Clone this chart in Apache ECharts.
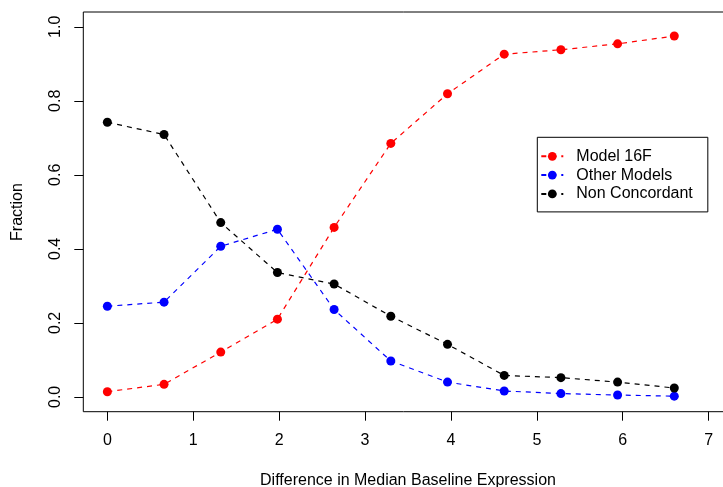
<!DOCTYPE html>
<html>
<head>
<meta charset="utf-8">
<script src="https://cdn.jsdelivr.net/npm/echarts@6/dist/echarts.min.js"></script>
<style>
html,body{margin:0;padding:0;background:#fff;}
#chart{width:723px;height:487px;}
</style>
</head>
<body>
<div id="chart"></div>
<script>
var xValues = [0, 0.66, 1.32, 1.98, 2.64, 3.30, 3.96, 4.62, 5.28, 5.94, 6.60];
var model16F = [0.014, 0.034, 0.121, 0.210, 0.458, 0.685, 0.819, 0.926, 0.938, 0.954, 0.975];
var otherModels = [0.245, 0.256, 0.407, 0.453, 0.236, 0.097, 0.040, 0.016, 0.009, 0.005, 0.002];
var nonConcordant = [0.742, 0.709, 0.471, 0.336, 0.305, 0.218, 0.142, 0.058, 0.052, 0.040, 0.024];
var xTicks = [0, 1, 2, 3, 4, 5, 6, 7];
var yTicks = [0, 0.2, 0.4, 0.6, 0.8, 1.0];
var seriesNames = ['Model 16F', 'Other Models', 'Non Concordant'];
var seriesColors = ['#ff0000', '#0000ff', '#000000'];
var xTitle = 'Difference in Median Baseline Expression';
var yTitle = 'Fraction';

var FONT = '"Liberation Sans", Arial, Helvetica, sans-serif';

function pairs(ys) {
  return xValues.map(function (x, i) { return [x, ys[i]]; });
}
var seriesData = [model16F, otherModels, nonConcordant];

var chart = echarts.init(document.getElementById('chart'), null, {renderer: 'canvas'});
chart.setOption({
  animation: false,
  backgroundColor: '#ffffff',
  textStyle: {fontFamily: FONT},
  grid: {
    left: 83.3, top: 12, width: 649.4, height: 399.7,
    show: true, borderColor: '#000', borderWidth: 1,
    containLabel: false, outerBoundsMode: 'none'
  },
  xAxis: {
    type: 'value', min: -0.28, max: 7.28,
    splitLine: {show: false},
    axisLine: {show: false, onZero: false},
    axisTick: {show: true, inside: false, customValues: xTicks, length: 9, lineStyle: {color: '#000', width: 1}},
    axisLabel: {customValues: xTicks, margin: 21, color: '#000', fontSize: 16, fontFamily: FONT,
      formatter: function (v) { return String(v); }}
  },
  yAxis: {
    type: 'value', min: -0.04, max: 1.04,
    splitLine: {show: false},
    axisLine: {show: false, onZero: false},
    axisTick: {show: true, inside: false, customValues: yTicks, length: 9, lineStyle: {color: '#000', width: 1}},
    axisLabel: {customValues: yTicks, margin: 20, rotate: 90, color: '#000', fontSize: 16, fontFamily: FONT,
      formatter: function (v) { return v.toFixed(1); }}
  },
  legend: {
    show: true,
    orient: 'vertical',
    left: 537.3, top: 137.3,
    data: seriesNames,
    backgroundColor: '#fff',
    borderColor: '#000', borderWidth: 1,
    padding: [11, 15, 10, 3],
    itemWidth: 22, itemHeight: 11, itemGap: 2.8,
    textStyle: {color: '#000', fontSize: 16, fontFamily: FONT, lineHeight: 16, padding: [0, 0, 0, 8]},
    selectedMode: false
  },
  graphic: [
    {type: 'text', x: 408, y: 481, silent: true,
      style: {text: xTitle, fill: '#000', font: '16px ' + FONT, textAlign: 'center', textVerticalAlign: 'middle'}},
    {type: 'text', x: 17.5, y: 212, rotation: Math.PI / 2, silent: true,
      style: {text: yTitle, fill: '#000', font: '16px ' + FONT, textAlign: 'center', textVerticalAlign: 'middle'}}
  ],
  series: seriesNames.map(function (name, i) {
    return {
      name: name,
      type: 'line',
      data: pairs(seriesData[i]),
      symbol: 'circle',
      symbolSize: 9,
      showAllSymbol: true,
      itemStyle: {color: seriesColors[i]},
      lineStyle: {color: seriesColors[i], width: 1.2, type: [5, 5]},
      emphasis: {disabled: true}
    };
  })
});
</script>
</body>
</html>
